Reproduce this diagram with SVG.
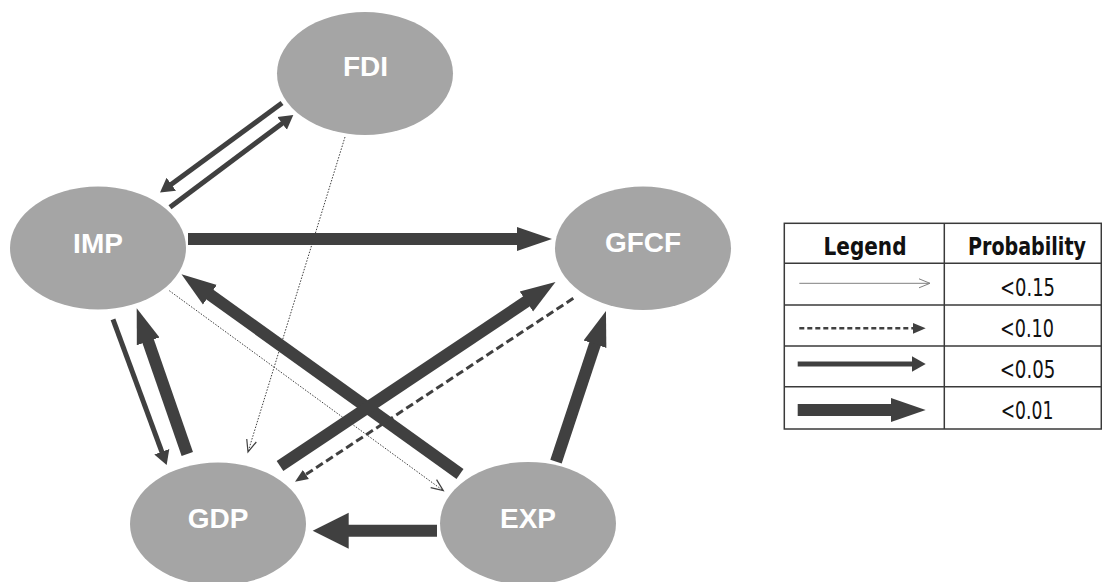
<svg xmlns="http://www.w3.org/2000/svg" width="1102" height="582" viewBox="0 0 1102 582">
<style>
.node{fill:#a5a5a5}
.lbl{font-family:"Liberation Sans",Arial,sans-serif;font-weight:bold;font-size:28px;fill:#ffffff;text-anchor:middle}
.thick{stroke:#404040;stroke-width:12;fill:none}
.med{stroke:#404040;stroke-width:5;fill:none}
.dash{stroke:#404040;stroke-width:3;stroke-dasharray:8 4;fill:none}
.dot{stroke:#404040;stroke-width:1;stroke-dasharray:1.5 1.5;fill:none}
.thin{stroke:#808080;stroke-width:1;fill:none}
.grid{stroke:#3a3a3a;stroke-width:1.5;fill:none}
.lh{font-family:"DejaVu Sans Condensed","Liberation Sans Narrow",Roboto,sans-serif;font-weight:bold;font-size:25px;fill:#111;text-anchor:middle}
.lv{font-family:"DejaVu Sans Condensed","Liberation Sans Narrow",Roboto,sans-serif;font-size:25px;fill:#111;text-anchor:middle}
</style>
<defs>
<marker id="hThick" markerUnits="userSpaceOnUse" orient="auto" markerWidth="40" markerHeight="40" viewBox="0 -20 40 40" refX="3" refY="0">
<path d="M0,-12 L35,0 L0,12 Z" fill="#404040"/>
</marker>
<marker id="hWide" markerUnits="userSpaceOnUse" orient="auto" markerWidth="40" markerHeight="40" viewBox="0 -20 40 40" refX="3" refY="0">
<path d="M0,-18 L36,0 L0,18 Z" fill="#404040"/>
</marker>
<marker id="hMed" markerUnits="userSpaceOnUse" orient="auto" markerWidth="20" markerHeight="20" viewBox="0 -10 20 20" refX="2" refY="0">
<path d="M0,-8 L14,0 L0,8 Z" fill="#404040"/>
</marker>
<marker id="hDash" markerUnits="userSpaceOnUse" orient="auto" markerWidth="16" markerHeight="16" viewBox="0 -8 16 16" refX="2" refY="0">
<path d="M0,-5.5 L13,0 L0,5.5 Z" fill="#404040"/>
</marker>
<marker id="hOpen" markerUnits="userSpaceOnUse" orient="auto" markerWidth="16" markerHeight="16" viewBox="-14 -8 16 16" refX="0" refY="0">
<path d="M-12,-5 L0,0 L-12,5" fill="none" stroke="#404040" stroke-width="1.2"/>
</marker>
<marker id="hOpenGray" markerUnits="userSpaceOnUse" orient="auto" markerWidth="16" markerHeight="16" viewBox="-14 -8 16 16" refX="0" refY="0">
<path d="M-11,-4.5 L0,0 L-11,4.5" fill="none" stroke="#808080" stroke-width="1"/>
</marker>
</defs>

<g id="node-FDI"><ellipse class="node" cx="365" cy="73.5" rx="88" ry="61.5"/><text class="lbl" x="365.5" y="76">FDI</text></g>
<g id="node-IMP"><ellipse class="node" cx="98" cy="248" rx="88" ry="61.5"/><text class="lbl" x="98" y="252.7">IMP</text></g>
<g id="node-GFCF"><ellipse class="node" cx="643" cy="248.3" rx="88" ry="61.7"/><text class="lbl" x="643" y="251.7">GFCF</text></g>
<g id="node-GDP"><ellipse class="node" cx="218" cy="524" rx="88" ry="61.5"/><text class="lbl" x="218" y="528">GDP</text></g>
<g id="node-EXP"><ellipse class="node" cx="528" cy="523.4" rx="88" ry="61.5"/><text class="lbl" x="528" y="528">EXP</text></g>

<g id="connectors">
<line class="dot" x1="345" y1="137" x2="248" y2="452" marker-end="url(#hOpen)"/>
<line class="dot" x1="169.3" y1="290.7" x2="443.3" y2="490.7" marker-end="url(#hOpen)"/>
<line class="med" x1="282" y1="103" x2="169.7" y2="185.4" marker-end="url(#hMed)"/>
<line class="med" x1="170" y1="207.3" x2="283.7" y2="122.2" marker-end="url(#hMed)"/>
<line class="med" x1="113" y1="319.3" x2="162.5" y2="453.7" marker-end="url(#hMed)"/>
<line class="thick" x1="188" y1="239" x2="520" y2="239" marker-end="url(#hThick)"/>
<line class="thick" x1="460" y1="474" x2="207.5" y2="292.9" marker-end="url(#hThick)"/>
<line class="thick" x1="280" y1="466" x2="528.9" y2="299.8" marker-end="url(#hThick)"/>
<line class="dash" x1="573.3" y1="298.3" x2="304.2" y2="475.6" marker-end="url(#hDash)"/>
<line class="thick" x1="556" y1="461.7" x2="595.9" y2="341.4" marker-end="url(#hThick)"/>
<line class="thick" x1="437" y1="530.7" x2="345.7" y2="530.7" marker-end="url(#hWide)"/>
<line class="thick" x1="187.3" y1="454" x2="147.2" y2="338.5" marker-end="url(#hThick)"/>
</g>

<g id="legend">
<rect class="grid" x="784.3" y="223.3" width="317" height="205.7"/>
<line class="grid" x1="944.3" y1="223.3" x2="944.3" y2="429"/>
<line class="grid" x1="784.3" y1="263.3" x2="1101.3" y2="263.3"/>
<line class="grid" x1="784.3" y1="305" x2="1101.3" y2="305"/>
<line class="grid" x1="784.3" y1="346" x2="1101.3" y2="346"/>
<line class="grid" x1="784.3" y1="386.7" x2="1101.3" y2="386.7"/>
<text class="lh" x="865" y="255" textLength="83" lengthAdjust="spacingAndGlyphs">Legend</text>
<text class="lh" x="1027" y="255" textLength="118" lengthAdjust="spacingAndGlyphs">Probability</text>
<line class="thin" x1="799.3" y1="283.3" x2="930" y2="283.3" marker-end="url(#hOpenGray)"/>
<line class="dash" style="stroke-width:2.5;stroke-dasharray:5 3" x1="799.3" y1="328.3" x2="914.7" y2="328.3" marker-end="url(#hDash)"/>
<line class="med" x1="797.7" y1="364" x2="913.7" y2="364" marker-end="url(#hMed)"/>
<line class="thick" x1="797.7" y1="410" x2="893.7" y2="410" marker-end="url(#hThick)"/>
<text class="lv" x="1027.5" y="296" textLength="55" lengthAdjust="spacingAndGlyphs">&lt;0.15</text>
<text class="lv" x="1027" y="337.3" textLength="54" lengthAdjust="spacingAndGlyphs">&lt;0.10</text>
<text class="lv" x="1027.5" y="378.3" textLength="55.7" lengthAdjust="spacingAndGlyphs">&lt;0.05</text>
<text class="lv" x="1027" y="419.3" textLength="52.7" lengthAdjust="spacingAndGlyphs">&lt;0.01</text>
</g>
</svg>
